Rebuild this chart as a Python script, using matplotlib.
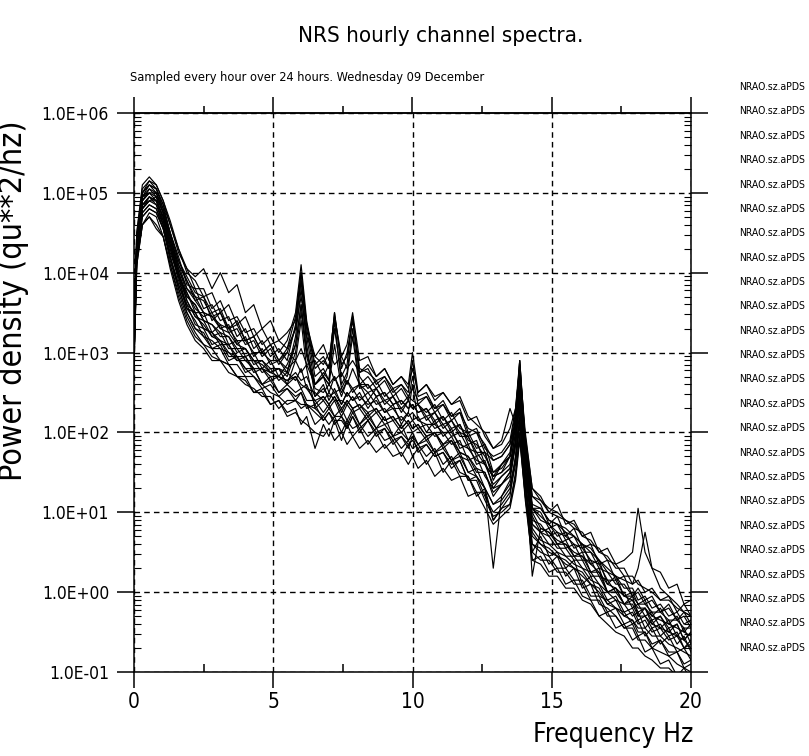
import matplotlib
matplotlib.use('Agg')
import matplotlib.pyplot as plt
import numpy as np
from matplotlib.ticker import MultipleLocator, LogLocator, NullFormatter

# frequency axis shared by all hourly spectra (Hz)
freq_hz = [0.0, 0.1, 0.3, 0.55, 0.8, 1.05, 1.3, 1.6, 1.9, 2.2, 2.5, 2.8, 3.1, 3.4, 3.7,
           4.0, 4.3, 4.6, 4.9, 5.2, 5.5, 5.8, 6.0, 6.2, 6.5, 6.8, 7.0, 7.2, 7.45, 7.65,
           7.85, 8.1, 8.4, 8.7, 9.0, 9.3, 9.6, 9.85, 10.0, 10.2, 10.5, 10.8, 11.1, 11.4, 11.7,
           12.0, 12.3, 12.6, 12.9, 13.2, 13.5, 13.7, 13.85, 14.05, 14.3, 14.6, 14.9, 15.2, 15.5, 15.8,
           16.1, 16.4, 16.7, 17.0, 17.3, 17.6, 17.9, 18.1, 18.35, 18.6, 18.9, 19.2, 19.5, 19.75, 20.0]

# log10 power density, one list per hour
h00 = [3.3, 4.45, 5.0, 5.15, 5.05, 4.85, 4.6, 4.25, 4.05, 3.8, 3.8, 3.55, 3.65, 3.4, 3.45,
       3.25, 3.3, 3.1, 3.2, 3.0, 3.15, 3.5, 4.1, 3.4, 2.85, 2.95, 2.8, 3.5, 2.8, 3.0,
       3.4, 2.75, 2.8, 2.6, 2.7, 2.5, 2.6, 2.5, 2.9, 2.45, 2.5, 2.3, 2.4, 2.2, 2.3,
       2.0, 2.05, 1.8, 1.7, 1.75, 1.9, 2.3, 2.9, 1.9, 1.2, 1.1, 0.85, 0.95, 0.7, 0.8,
       0.55, 0.6, 0.35, 0.4, 0.15, 0.2, -0.05, 0.05, -0.1, -0.05, -0.25, -0.15, -0.35, -0.25, -0.4]
h01 = [3.1, 4.35, 4.9, 5.05, 4.95, 4.75, 4.4, 4.05, 3.75, 3.55, 3.45, 3.5, 3.3, 3.35, 3.1,
       3.2, 2.95, 3.05, 2.85, 2.9, 2.75, 3.2, 3.8, 3.1, 2.45, 2.6, 2.4, 2.55, 2.35, 2.5,
       2.4, 2.5, 2.3, 2.45, 2.25, 2.35, 2.1, 2.25, 2.15, 2.2, 2.0, 2.15, 1.95, 2.05, 1.8,
       1.85, 1.6, 1.65, 1.3, 1.45, 1.55, 2.0, 2.6, 1.7, 0.95, 0.75, 0.8, 0.6, 0.65, 0.45,
       0.5, 0.25, 0.3, 0.0, 0.05, -0.15, -0.05, -0.3, -0.2, -0.4, -0.3, -0.5, -0.4, -0.6, -0.5]
h02 = [2.9, 4.2, 4.75, 4.85, 4.8, 4.55, 4.2, 3.8, 3.5, 3.3, 3.25, 3.05, 3.1, 2.9, 2.95,
       2.75, 2.8, 2.6, 2.65, 2.5, 2.55, 2.4, 2.5, 2.3, 2.35, 2.15, 2.25, 2.1, 2.2, 2.05,
       2.2, 2.0, 2.15, 1.95, 2.05, 1.85, 1.95, 1.8, 1.95, 1.75, 1.85, 1.7, 1.75, 1.55, 1.65,
       1.4, 1.45, 1.2, 1.0, 1.1, 1.25, 1.6, 2.1, 1.3, 0.6, 0.55, 0.35, 0.45, 0.2, 0.3,
       0.05, 0.1, -0.15, -0.2, -0.3, -0.45, -0.4, -0.55, -0.5, -0.7, -0.6, -0.8, -0.75, -0.95, -0.9]
h03 = [3.4, 4.5, 5.1, 5.2, 5.1, 4.9, 4.65, 4.3, 4.05, 3.95, 4.05, 3.8, 4.0, 3.75, 3.85,
       3.5, 3.6, 3.3, 3.4, 3.15, 3.25, 3.4, 3.9, 3.35, 2.95, 3.1, 2.9, 3.45, 2.95, 3.1,
       3.5, 2.9, 2.95, 2.7, 2.8, 2.6, 2.7, 2.6, 3.0, 2.5, 2.6, 2.4, 2.5, 2.35, 2.4,
       2.15, 2.2, 1.95, 1.8, 1.85, 2.05, 2.3, 2.8, 2.0, 1.3, 1.15, 1.05, 1.0, 0.9, 0.85,
       0.7, 0.65, 0.5, 0.45, 0.3, 0.3, 0.1, 0.15, 0.0, 0.05, -0.1, -0.05, -0.25, -0.15, -0.3]
h04 = [3.2, 4.3, 4.85, 4.9, 4.95, 4.65, 4.35, 3.95, 3.75, 3.5, 3.5, 3.25, 3.35, 3.1, 3.15,
       2.95, 3.0, 2.8, 2.9, 2.7, 2.85, 3.1, 3.6, 3.0, 2.6, 2.7, 2.5, 2.7, 2.45, 2.65,
       2.5, 2.6, 2.4, 2.55, 2.35, 2.45, 2.25, 2.4, 2.3, 2.35, 2.15, 2.25, 2.05, 2.15, 1.95,
       1.95, 1.7, 1.75, 1.4, 1.6, 1.7, 2.1, 2.7, 1.8, 1.05, 0.9, 0.85, 0.7, 0.75, 0.55,
       0.6, 0.35, 0.4, 0.1, 0.2, -0.05, 0.0, -0.15, -0.1, -0.3, -0.2, -0.4, -0.3, -0.5, -0.4]
h05 = [2.8, 4.1, 4.6, 4.7, 4.55, 4.45, 4.1, 3.7, 3.4, 3.2, 3.1, 2.95, 2.9, 2.85, 2.7,
       2.65, 2.5, 2.5, 2.35, 2.4, 2.25, 2.3, 2.1, 2.2, 1.8, 2.1, 1.95, 2.15, 1.9, 2.1,
       1.95, 2.05, 1.85, 2.0, 1.8, 1.9, 1.7, 1.85, 1.7, 1.8, 1.6, 1.75, 1.5, 1.65, 1.45,
       1.45, 1.2, 1.3, 0.9, 1.05, 1.2, 1.7, 2.2, 1.4, 0.5, 0.7, 0.45, 0.5, 0.3, 0.4,
       0.1, 0.2, -0.05, -0.1, -0.2, -0.25, -0.4, -0.35, -0.55, -0.45, -0.65, -0.55, -0.75, -0.7, -0.85]
h06 = [3.3, 4.4, 5.0, 5.1, 5.0, 4.8, 4.5, 4.2, 3.85, 3.8, 3.55, 3.6, 3.4, 3.45, 3.2,
       3.3, 3.05, 3.15, 2.95, 3.05, 2.9, 3.35, 4.0, 3.3, 2.7, 2.8, 2.65, 3.3, 2.7, 2.85,
       3.45, 2.7, 2.55, 2.65, 2.45, 2.55, 2.35, 2.45, 2.4, 2.35, 2.25, 2.35, 2.15, 2.25, 2.05,
       2.0, 1.8, 1.85, 1.5, 1.6, 1.75, 2.2, 2.9, 1.8, 1.0, 0.8, 0.75, 0.6, 0.6, 0.45,
       0.45, 0.25, 0.25, 0.0, 0.05, -0.15, -0.1, -0.25, -0.2, -0.35, -0.3, -0.45, -0.4, -0.6, -0.5]
h07 = [3.0, 4.25, 4.8, 4.9, 4.85, 4.6, 4.25, 3.95, 3.55, 3.5, 3.3, 3.25, 3.1, 3.1, 2.9,
       2.95, 2.75, 2.8, 2.65, 2.7, 2.6, 2.7, 2.55, 2.6, 2.35, 2.45, 2.35, 2.45, 2.25, 2.4,
       2.3, 2.35, 2.2, 2.3, 2.15, 2.2, 2.05, 2.15, 2.05, 2.1, 1.95, 2.0, 1.85, 1.9, 1.75,
       1.7, 1.5, 1.5, 1.2, 1.35, 1.45, 1.85, 2.5, 1.55, 0.8, 0.65, 0.6, 0.5, 0.45, 0.35,
       0.3, 0.15, 0.1, -0.1, -0.05, -0.25, -0.2, -0.35, -0.3, -0.45, -0.4, -0.55, -0.5, -0.7, -0.6]
h08 = [3.2, 4.35, 4.95, 5.0, 5.0, 4.75, 4.45, 4.1, 3.9, 3.65, 3.7, 3.4, 3.5, 3.25, 3.3,
       3.1, 3.15, 2.95, 3.05, 2.85, 3.0, 2.9, 3.05, 2.85, 2.9, 2.7, 2.85, 2.65, 2.75, 2.6,
       2.8, 2.6, 2.7, 2.55, 2.65, 2.45, 2.55, 2.4, 2.7, 2.35, 2.45, 2.25, 2.35, 2.15, 2.25,
       1.95, 2.0, 1.75, 1.65, 1.7, 1.85, 2.15, 2.7, 1.95, 1.3, 1.2, 1.0, 1.1, 0.85, 0.9,
       0.7, 0.75, 0.5, 0.55, 0.35, 0.4, 0.5, 1.05, 0.5, 0.3, 0.25, 0.05, 0.1, -0.15, -0.1]
h09 = [2.9, 4.15, 4.6, 4.75, 4.7, 4.45, 4.1, 3.75, 3.45, 3.25, 3.1, 3.05, 2.9, 2.85, 2.7,
       2.7, 2.5, 2.55, 2.35, 2.4, 2.2, 2.25, 2.15, 2.1, 2.0, 1.95, 2.05, 1.9, 2.0, 1.85,
       1.95, 1.8, 1.9, 1.75, 1.85, 1.7, 1.75, 1.6, 1.7, 1.55, 1.65, 1.45, 1.55, 1.4, 1.45,
       1.2, 1.25, 1.05, 0.85, 0.95, 1.05, 1.4, 1.9, 1.2, 0.4, 0.45, 0.25, 0.3, 0.1, 0.15,
       -0.05, -0.1, -0.3, -0.25, -0.45, -0.4, -0.6, -0.55, -0.75, -0.7, -0.9, -0.85, -1.05, -0.95, -1.1]
h10 = [3.1, 4.3, 4.9, 5.0, 4.9, 4.7, 4.4, 4.0, 3.7, 3.6, 3.4, 3.35, 3.25, 3.2, 3.05,
       3.05, 2.9, 2.9, 2.8, 2.8, 2.7, 3.0, 3.5, 2.95, 2.55, 2.5, 2.6, 2.5, 2.55, 2.45,
       2.55, 2.4, 2.5, 2.35, 2.4, 2.3, 2.3, 2.2, 2.25, 2.15, 2.2, 2.05, 2.1, 1.95, 2.0,
       1.8, 1.75, 1.6, 1.45, 1.5, 1.6, 2.0, 2.6, 1.75, 1.05, 1.05, 0.9, 0.85, 0.8, 0.7,
       0.6, 0.55, 0.4, 0.3, 0.2, 0.15, 0.1, 0.3, 0.75, 0.3, 0.05, -0.05, -0.15, -0.25, -0.3]
h11 = [2.95, 4.2, 4.75, 4.85, 4.8, 4.6, 4.2, 3.85, 3.6, 3.35, 3.3, 3.1, 3.15, 2.95, 2.95,
       2.8, 2.8, 2.6, 2.7, 2.5, 2.6, 2.5, 2.55, 2.4, 2.4, 2.25, 2.35, 2.2, 2.3, 2.15,
       2.3, 2.1, 2.25, 2.05, 2.2, 1.95, 2.1, 1.9, 2.0, 1.85, 1.95, 1.75, 1.85, 1.65, 1.75,
       1.5, 1.55, 1.3, 1.1, 1.2, 1.35, 1.65, 2.15, 1.35, 0.6, 0.5, 0.45, 0.3, 0.3, 0.15,
       0.15, -0.05, -0.05, -0.25, -0.2, -0.4, -0.35, -0.5, -0.5, -0.65, -0.6, -0.75, -0.75, -0.9, -0.85]
h12 = [3.35, 4.45, 5.0, 5.1, 5.05, 4.85, 4.5, 4.15, 3.95, 3.75, 3.7, 3.5, 3.55, 3.3, 3.4,
       3.15, 3.2, 3.0, 3.1, 2.9, 3.0, 3.3, 3.9, 3.2, 2.6, 2.75, 2.65, 3.4, 2.6, 2.75,
       3.3, 2.6, 2.6, 2.45, 2.5, 2.35, 2.4, 2.3, 2.35, 2.25, 2.3, 2.1, 2.2, 2.0, 2.1,
       1.85, 1.9, 1.6, 1.45, 1.5, 1.7, 2.15, 2.8, 1.7, 0.85, 0.75, 0.6, 0.6, 0.45, 0.45,
       0.3, 0.25, 0.1, 0.0, -0.1, -0.15, -0.3, -0.25, -0.45, -0.35, -0.55, -0.45, -0.65, -0.55, -0.75]
h13 = [3.05, 4.25, 4.8, 4.95, 4.85, 4.65, 4.3, 3.95, 3.65, 3.45, 3.4, 3.2, 3.25, 3.05, 3.05,
       2.9, 2.9, 2.75, 2.8, 2.65, 2.75, 2.65, 2.8, 2.55, 2.5, 2.4, 2.5, 2.4, 2.4, 2.35,
       2.45, 2.3, 2.4, 2.25, 2.3, 2.15, 2.2, 2.1, 2.15, 2.05, 2.1, 1.95, 2.0, 1.85, 1.9,
       1.65, 1.7, 1.45, 1.3, 1.35, 1.5, 1.85, 2.4, 1.55, 0.9, 0.85, 0.7, 0.75, 0.55, 0.6,
       0.4, 0.4, 0.2, 0.15, 0.0, 0.0, -0.2, -0.15, -0.3, -0.25, -0.45, -0.35, -0.55, -0.45, -0.65]
h14 = [3.35, 4.5, 5.05, 5.15, 5.1, 4.9, 4.6, 4.3, 4.0, 3.9, 3.7, 3.75, 3.5, 3.6, 3.35,
       3.45, 3.2, 3.3, 3.1, 3.15, 3.05, 3.3, 3.7, 3.2, 2.95, 2.85, 3.0, 2.85, 2.95, 2.8,
       2.9, 2.75, 2.85, 2.7, 2.8, 2.6, 2.7, 2.55, 2.8, 2.5, 2.6, 2.45, 2.5, 2.35, 2.45,
       2.2, 2.1, 2.0, 1.8, 1.9, 2.3, 2.1, 2.9, 1.9, 1.1, 1.05, 0.9, 0.85, 0.75, 0.7,
       0.6, 0.5, 0.4, 0.25, 0.2, 0.05, 0.05, -0.1, -0.05, -0.2, -0.15, -0.3, -0.25, -0.4, -0.35]
h15 = [2.95, 4.2, 4.7, 4.8, 4.75, 4.55, 4.15, 3.8, 3.5, 3.3, 3.2, 3.05, 3.05, 2.85, 2.85,
       2.7, 2.7, 2.55, 2.6, 2.45, 2.55, 2.45, 2.5, 2.35, 2.3, 2.2, 2.3, 2.2, 2.2, 2.1,
       2.25, 2.1, 2.2, 2.05, 2.1, 1.95, 2.0, 1.9, 1.95, 1.85, 1.9, 1.75, 1.8, 1.65, 1.7,
       1.5, 1.45, 1.3, 1.1, 1.15, 1.3, 1.7, 2.3, 1.4, 0.7, 0.6, 0.5, 0.45, 0.35, 0.3,
       0.2, 0.1, 0.0, -0.15, -0.2, -0.3, -0.35, -0.45, -0.45, -0.55, -0.55, -0.65, -0.7, -0.75, -0.8]
h16 = [3.15, 4.35, 4.9, 5.0, 4.95, 4.75, 4.45, 4.05, 3.8, 3.65, 3.5, 3.45, 3.35, 3.3, 3.15,
       3.15, 3.0, 3.0, 2.9, 2.9, 2.8, 2.9, 2.75, 2.85, 2.6, 2.7, 2.6, 3.1, 2.55, 2.7,
       3.2, 2.55, 2.6, 2.45, 2.5, 2.35, 2.4, 2.3, 2.35, 2.25, 2.3, 2.15, 2.2, 2.05, 2.1,
       1.9, 1.85, 1.7, 1.5, 1.55, 1.7, 2.05, 2.6, 1.85, 1.2, 1.15, 1.0, 0.95, 0.9, 0.8,
       0.75, 0.6, 0.55, 0.4, 0.35, 0.2, 0.2, 0.1, 0.05, 0.0, -0.1, -0.1, -0.2, -0.25, -0.3]
h17 = [2.85, 4.1, 4.6, 4.7, 4.6, 4.45, 4.05, 3.65, 3.35, 3.15, 3.05, 2.9, 2.9, 2.75, 2.7,
       2.6, 2.55, 2.45, 2.45, 2.3, 2.4, 2.4, 2.35, 2.35, 2.25, 2.15, 2.25, 2.15, 2.15, 2.05,
       2.2, 2.05, 2.15, 2.0, 2.05, 1.9, 1.95, 1.85, 1.9, 1.8, 1.85, 1.7, 1.75, 1.6, 1.65,
       1.4, 1.4, 1.15, 0.95, 1.0, 1.1, 1.45, 1.95, 1.15, 0.4, 0.35, 0.2, 0.2, 0.05, 0.05,
       -0.1, -0.15, -0.3, -0.4, -0.5, -0.55, -0.7, -0.7, -0.8, -0.85, -0.95, -0.95, -1.05, -1.05, -1.1]
h18 = [3.0, 4.3, 4.85, 4.95, 4.9, 4.7, 4.35, 4.0, 3.7, 3.6, 3.4, 3.35, 3.2, 3.2, 3.0,
       3.05, 2.85, 2.9, 2.75, 2.8, 2.6, 2.9, 3.4, 2.8, 2.3, 2.4, 2.3, 2.4, 2.2, 2.35,
       2.25, 2.3, 2.15, 2.25, 2.1, 2.15, 2.0, 2.1, 2.0, 2.05, 1.9, 2.0, 1.8, 1.9, 1.7,
       1.65, 1.45, 1.3, 0.3, 1.2, 1.4, 1.85, 2.5, 1.5, 0.75, 0.6, 0.55, 0.45, 0.4, 0.3,
       0.25, 0.1, 0.05, -0.15, -0.1, -0.3, -0.25, -0.4, -0.35, -0.5, -0.45, -0.6, -0.55, -0.7, -0.65]
h19 = [3.25, 4.4, 4.95, 5.1, 5.05, 4.8, 4.5, 4.15, 3.9, 3.7, 3.65, 3.45, 3.5, 3.3, 3.35,
       3.15, 3.2, 3.0, 3.1, 2.9, 3.05, 3.45, 4.0, 3.35, 2.8, 2.9, 2.8, 3.5, 2.85, 2.95,
       3.45, 2.8, 2.75, 2.65, 2.7, 2.55, 2.6, 2.45, 2.55, 2.4, 2.45, 2.3, 2.35, 2.2, 2.25,
       2.05, 2.0, 1.85, 1.65, 1.7, 1.85, 2.25, 2.85, 1.85, 1.05, 0.95, 0.85, 0.75, 0.7, 0.6,
       0.55, 0.4, 0.35, 0.15, 0.15, -0.05, -0.05, -0.15, -0.15, -0.25, -0.25, -0.35, -0.35, -0.45, -0.45]
h20 = [3.05, 4.25, 4.8, 4.9, 4.9, 4.6, 4.3, 3.9, 3.6, 3.5, 3.3, 3.25, 3.15, 3.1, 2.95,
       2.95, 2.8, 2.8, 2.7, 2.7, 2.65, 2.75, 2.65, 2.7, 2.45, 2.55, 2.45, 2.5, 2.35, 2.5,
       2.4, 2.45, 2.35, 2.4, 2.25, 2.3, 2.15, 2.25, 2.6, 2.15, 2.1, 2.1, 2.0, 2.0, 1.85,
       1.8, 1.65, 1.6, 1.35, 1.45, 1.55, 1.9, 2.4, 1.5, 0.2, 0.8, 0.75, 0.65, 0.6, 0.5,
       0.45, 0.35, 0.25, 0.1, 0.05, -0.05, -0.1, -0.2, -0.2, -0.3, -0.35, -0.4, -0.45, -0.5, -0.55]
h21 = [3.1, 4.3, 4.85, 4.95, 4.9, 4.7, 4.35, 4.0, 3.65, 3.45, 3.35, 3.2, 3.15, 3.0, 2.95,
       2.8, 2.7, 2.6, 2.5, 2.45, 2.35, 2.4, 2.3, 2.35, 2.1, 2.2, 2.1, 2.2, 2.0, 2.15,
       2.05, 2.1, 1.95, 2.05, 1.9, 1.95, 1.8, 1.9, 1.8, 1.85, 1.7, 1.8, 1.6, 1.7, 1.5,
       1.45, 1.25, 1.25, 0.9, 1.05, 1.1, 1.5, 2.0, 1.2, 0.5, 0.4, 0.4, 0.25, 0.25, 0.1,
       0.1, -0.1, -0.1, -0.3, -0.3, -0.45, -0.45, -0.6, -0.6, -0.7, -0.75, -0.8, -0.9, -0.95, -1.0]
h22 = [2.95, 4.2, 4.7, 4.8, 4.75, 4.55, 4.2, 3.85, 3.55, 3.4, 3.2, 3.15, 3.05, 3.0, 2.9,
       2.9, 2.8, 2.8, 2.75, 2.8, 2.75, 3.1, 3.6, 3.0, 2.6, 2.7, 2.6, 2.7, 2.5, 2.65,
       2.55, 2.6, 2.5, 2.55, 2.4, 2.45, 2.3, 2.4, 2.3, 2.35, 2.2, 2.25, 2.1, 2.15, 2.0,
       1.95, 1.75, 1.75, 1.45, 1.6, 1.7, 2.1, 2.7, 1.8, 1.05, 1.0, 0.8, 0.85, 0.65, 0.7,
       0.5, 0.5, 0.3, 0.25, 0.1, 0.1, -0.05, 0.0, -0.15, -0.1, -0.25, -0.2, -0.35, -0.3, -0.45]
h23 = [3.2, 4.35, 4.95, 5.05, 5.0, 4.75, 4.45, 4.1, 3.8, 3.7, 3.5, 3.45, 3.3, 3.25, 3.1,
       3.05, 2.9, 2.85, 2.75, 2.7, 2.65, 2.7, 2.6, 2.55, 2.4, 2.45, 2.35, 2.45, 2.3, 2.4,
       2.3, 2.35, 2.25, 2.3, 2.15, 2.2, 2.05, 2.15, 2.05, 2.1, 1.95, 2.0, 1.85, 1.95, 1.75,
       1.7, 1.55, 1.5, 1.25, 1.35, 1.5, 1.9, 2.5, 1.6, 0.85, 0.75, 0.7, 0.55, 0.55, 0.4,
       0.4, 0.2, 0.2, 0.0, 0.0, -0.15, -0.15, -0.3, -0.3, -0.4, -0.45, -0.5, -0.55, -0.6, -0.7]

hourly_spectra = [h00, h01, h02, h03, h04, h05, h06, h07, h08, h09, h10, h11,
                  h12, h13, h14, h15, h16, h17, h18, h19, h20, h21, h22, h23]
channel_labels = ['NRAO.sz.aPDS'] * 24

x_ticks = [0, 5, 10, 15, 20]
y_ticks = [1e-1, 1e0, 1e1, 1e2, 1e3, 1e4, 1e5, 1e6]
y_tick_labels = ['1.0E-01', '1.0E+00', '1.0E+01', '1.0E+02',
                 '1.0E+03', '1.0E+04', '1.0E+05', '1.0E+06']

plt.rcParams['font.family'] = ['DejaVu Sans']
plt.rcParams['font.stretch'] = 'condensed'

W, H = 809, 756
fig = plt.figure(figsize=(W / 100, H / 100), dpi=100)
ax = fig.add_axes([134 / W, 1 - 672 / H, 557 / W, 559 / H])

for vals, lab in zip(hourly_spectra, channel_labels):
    ax.plot(freq_hz, np.power(10.0, vals), color='black', lw=0.85, label=lab)

ax.set_yscale('log')
ax.set_xlim(0, 20)
ax.set_ylim(1e-1, 1e6)

ax.set_xticks(x_ticks)
ax.set_xticklabels([str(t) for t in x_ticks])
ax.xaxis.set_minor_locator(MultipleLocator(2.5))
ax.set_yticks(y_ticks)
ax.set_yticklabels(y_tick_labels)
ax.yaxis.set_minor_locator(LogLocator(base=10, subs=(2, 3, 4, 5, 6, 7, 8, 9), numticks=20))
ax.yaxis.set_minor_formatter(NullFormatter())

ax.tick_params(axis='x', which='major', direction='out', length=11.5, width=1.1,
               pad=3, labelsize=15)
ax.tick_params(axis='x', which='minor', direction='in', length=6, width=1.1)
ax.tick_params(axis='y', which='major', direction='out', length=12, width=1.1,
               pad=6, labelsize=12.5, right=True)
ax.tick_params(axis='y', which='minor', direction='in', length=5, width=0.8, right=True)

# top axis: all ticks point outward, no labels
top = ax.secondary_xaxis('top')
top.set_xticks(x_ticks)
top.xaxis.set_minor_locator(MultipleLocator(2.5))
top.xaxis.set_major_formatter(NullFormatter())
top.tick_params(which='major', direction='out', length=11.5, width=1.1)
top.tick_params(which='minor', direction='out', length=5, width=1.1)

for s in ax.spines.values():
    s.set_linewidth(1.1)
top.spines['top'].set_linewidth(1.1)

ax.grid(True, which='major', color='black', linestyle=(0, (4, 3)), linewidth=1.0)

ax.legend(loc='upper left', bbox_to_anchor=(739 / W, 1 - 82 / H),
          bbox_transform=fig.transFigure, frameon=False, handlelength=0,
          handletextpad=0, borderpad=0, borderaxespad=0, labelspacing=1.38,
          fontsize=7.5)

fig.text(441 / W, 1 - 36 / H, 'NRS hourly channel spectra.', ha='center', va='center',
         fontsize=16)
fig.text(130 / W, 1 - 77 / H, 'Sampled every hour over 24 hours. Wednesday 09 December',
         ha='left', va='center', fontsize=9.2)
fig.text(693 / W, 1 - 735 / H, 'Frequency Hz', ha='right', va='center', fontsize=19)
fig.text(14 / W, 1 - 301 / H, 'Power density (qu**2/hz)', rotation=90,
         ha='center', va='center', fontsize=23)

fig.savefig('out.png', dpi=100)
